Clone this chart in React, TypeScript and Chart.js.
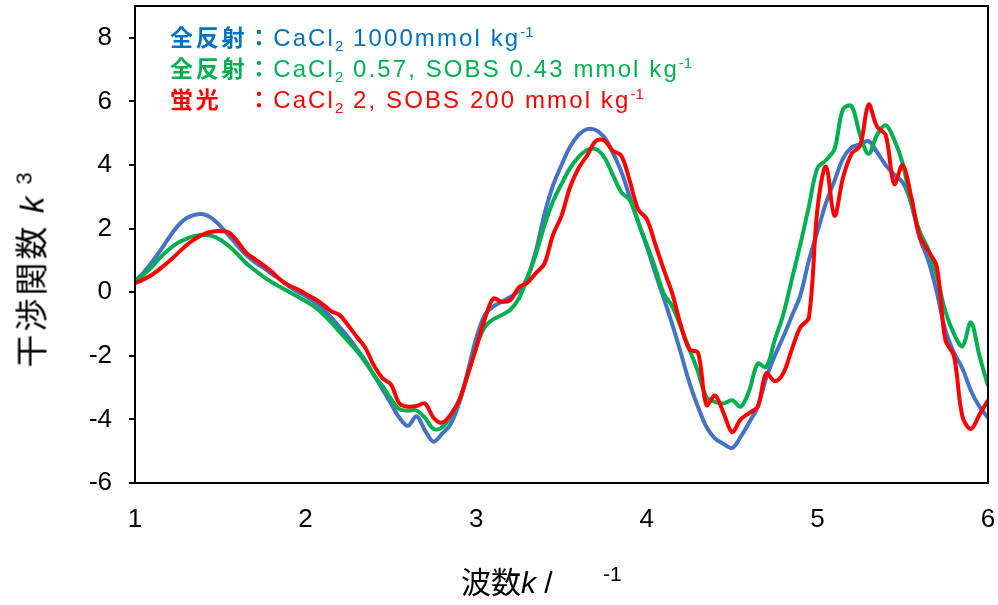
import React, { useEffect, useRef } from "react";
import { Chart, registerables } from "chart.js";
Chart.register(...registerables);

// wave number k (Å^-1)
const kValues = [
  1.0, 1.05, 1.1, 1.15, 1.2, 1.25, 1.3, 1.35, 1.4, 1.45,
  1.5, 1.55, 1.6, 1.65, 1.7, 1.75, 1.8, 1.85, 1.9, 1.95,
  2.0, 2.05, 2.1, 2.15, 2.2, 2.25, 2.3, 2.35, 2.4, 2.45,
  2.5, 2.55, 2.6, 2.65, 2.7, 2.75, 2.8, 2.85, 2.9, 2.95,
  3.0, 3.05, 3.1, 3.15, 3.2, 3.25, 3.3, 3.35, 3.4, 3.45,
  3.5, 3.55, 3.6, 3.65, 3.7, 3.75, 3.8, 3.85, 3.9, 3.95,
  4.0, 4.05, 4.1, 4.15, 4.2, 4.25, 4.3, 4.35, 4.4, 4.45,
  4.5, 4.55, 4.6, 4.65, 4.7, 4.75, 4.8, 4.85, 4.9, 4.95,
  5.0, 5.05, 5.1, 5.15, 5.2, 5.25, 5.3, 5.35, 5.4, 5.45,
  5.5, 5.55, 5.6, 5.65, 5.7, 5.75, 5.8, 5.85, 5.9, 5.95,
  6.0,
];

// 全反射 CaCl2 1000 mmol kg-1 (blue)
const blueSeries = [
  0.35, 0.62, 0.95, 1.32, 1.72, 2.08, 2.32, 2.43, 2.45, 2.33,
  2.08, 1.78, 1.47, 1.18, 0.95, 0.78, 0.58, 0.4, 0.2, 0.02,
  -0.12, -0.3, -0.52, -0.8, -1.1, -1.42, -1.78, -2.15, -2.6, -3.05,
  -3.5, -3.95, -4.2, -3.9, -4.35, -4.7, -4.45, -4.15, -3.5, -2.5,
  -1.45, -0.72, -0.45, -0.3, -0.15, 0.05, 0.45, 1.3, 2.45, 3.35,
  4.0, 4.57, 4.95, 5.13, 5.1, 4.88, 4.4, 3.8, 3.0, 2.2,
  1.43, 0.6, -0.2, -1.03, -1.92, -2.85, -3.6, -4.24, -4.6, -4.77,
  -4.9, -4.55, -4.1, -3.6, -2.7, -2.0, -1.4, -0.75, -0.1, 1.0,
  1.9, 2.8, 3.5, 4.2, 4.55, 4.65, 4.75, 4.4, 4.0, 3.7,
  3.45, 2.8, 1.7, 1.0, 0.0, -1.2, -1.9, -2.4, -3.1, -3.6,
  -3.95,
];

// 全反射 CaCl2 0.57, SOBS 0.43 mmol kg-1 (green)
const greenSeries = [
  0.3, 0.55, 0.8, 1.1, 1.35, 1.55, 1.68, 1.77, 1.8, 1.77,
  1.65, 1.45, 1.2, 0.92, 0.7, 0.5, 0.32, 0.17, 0.02, -0.13,
  -0.28, -0.45, -0.68, -0.95, -1.25, -1.55, -1.85, -2.2, -2.6, -2.95,
  -3.35, -3.68, -3.72, -3.72, -3.95, -4.3, -4.25, -3.9, -3.4, -2.6,
  -1.7, -1.1, -0.85, -0.72, -0.55, -0.2, 0.45, 1.2, 2.1, 2.85,
  3.4, 3.9, 4.25, 4.47, 4.5, 4.25, 3.7, 3.15, 2.9, 2.2,
  1.5, 0.75, -0.05, -0.45, -1.1, -1.8, -2.5, -3.3, -3.45, -3.5,
  -3.4, -3.6, -3.1, -2.25, -2.35, -1.5, -0.7, 0.4, 1.5, 2.7,
  3.9, 4.15, 4.5, 5.75, 5.85, 4.95, 4.35, 4.95, 5.25, 4.8,
  4.05, 2.8, 1.9, 1.35, 0.5, -0.6, -1.3, -1.7, -0.95, -2.0,
  -2.95,
];

// 蛍光 CaCl2 2, SOBS 200 mmol kg-1 (red)
const redSeries = [
  0.28, 0.4, 0.55, 0.75, 0.97, 1.22, 1.47, 1.67, 1.82, 1.9,
  1.92, 1.88, 1.6, 1.25, 1.05, 0.86, 0.65, 0.4, 0.22, 0.1,
  -0.05, -0.2, -0.38, -0.6, -0.72, -1.05, -1.4, -1.75, -2.3, -2.7,
  -2.9, -3.5, -3.6, -3.58, -3.5, -3.95, -4.1, -3.85, -3.4, -2.6,
  -1.75, -0.85, -0.2, -0.3, -0.25, 0.15, 0.3, 0.6, 0.9, 1.8,
  2.4, 3.3, 3.9, 4.3, 4.75, 4.78, 4.45, 4.3, 3.5, 2.6,
  2.3, 1.5, 0.7, -0.05, -1.05, -1.8, -1.9, -3.55, -3.25, -3.8,
  -4.4, -4.0, -3.8, -3.6, -2.55, -2.8, -2.55, -1.8, -1.1, -0.8,
  2.6, 3.95, 2.4, 3.6, 4.35, 4.6, 5.9, 5.2, 4.95, 3.4,
  4.0, 3.0, 1.75, 1.3, 0.8, -1.5, -2.0, -3.9, -4.3, -3.85,
  -3.4,
];

const xTickValues = [1, 2, 3, 4, 5, 6];
const yTickValues = [-6, -4, -2, 0, 2, 4, 6, 8];

const BLUE = "#4472C4";
const GREEN = "#00B050";
const RED = "#FF0000";

const framePlugin = {
  id: "frame",
  afterDatasetsDraw(chart: any) {
    const { ctx, chartArea } = chart;
    ctx.save();
    ctx.strokeStyle = "#000";
    ctx.lineWidth = 2;
    ctx.strokeRect(chartArea.left, chartArea.top, chartArea.right - chartArea.left, chartArea.bottom - chartArea.top);
    ctx.restore();
  },
};

const zeroPad = (s: any) => {
  s.paddingLeft = 0;
  s.paddingRight = 0;
  s.paddingTop = 0;
  s.paddingBottom = 0;
};

const toPoints = (ys: number[]) => kValues.map((x, i) => ({ x, y: ys[i] }));

export default function App() {
  const canvasRef = useRef<HTMLCanvasElement | null>(null);

  useEffect(() => {
    if (!canvasRef.current) return;
    const mk = (label: string, ys: number[], color: string, order: number) => ({
      label,
      data: toPoints(ys),
      borderColor: color,
      backgroundColor: color,
      borderWidth: 4,
      pointRadius: 0,
      tension: 0.35,
      fill: false,
      order,
    });
    const chart = new Chart(canvasRef.current, {
      type: "line",
      data: {
        datasets: [
          mk("全反射：CaCl2 1000mmol kg-1", blueSeries, BLUE, 2),
          mk("全反射：CaCl2 0.57, SOBS 0.43 mmol kg-1", greenSeries, GREEN, 1),
          mk("蛍光：CaCl2 2, SOBS 200 mmol kg-1", redSeries, RED, 0),
        ],
      },
      options: {
        animation: false,
        responsive: false,
        maintainAspectRatio: false,
        layout: { padding: { top: 6, right: 10, left: 0, bottom: 0 } },
        plugins: { legend: { display: false }, tooltip: { enabled: false } },
        scales: {
          x: {
            type: "linear",
            min: 1,
            max: 6,
            afterBuildTicks: (axis: any) => {
              axis.ticks = xTickValues.map((v) => ({ value: v }));
            },
            afterFit: (s: any) => {
              s.height = 122;
              zeroPad(s);
            },
            ticks: {
              color: "#000",
              font: { family: "'Liberation Sans', Arial, sans-serif", size: 26 },
              padding: 13,
              maxRotation: 0,
            },
            grid: { display: false },
            border: { display: false },
          },
          y: {
            type: "linear",
            min: -6,
            max: 9,
            afterBuildTicks: (axis: any) => {
              axis.ticks = yTickValues.map((v) => ({ value: v }));
            },
            afterFit: (s: any) => {
              s.width = 135;
              zeroPad(s);
            },
            ticks: {
              color: "#000",
              font: { family: "'Liberation Sans', Arial, sans-serif", size: 26 },
              padding: 17,
            },
            grid: {
              display: true,
              drawOnChartArea: false,
              drawTicks: true,
              tickLength: 6,
              color: "#000",
              lineWidth: 2,
            },
            border: { display: false },
          },
        },
      },
      plugins: [framePlugin],
    } as any);
    return () => chart.destroy();
  }, []);

  const latin = "'Liberation Sans', Arial, sans-serif";
  const cjk = "'Noto Sans CJK JP', sans-serif";

  const legendLine = (top: number, color: string, head: string, parts: React.ReactNode) => (
    <div
      style={{
        position: "absolute",
        left: 170,
        top,
        color,
        whiteSpace: "pre",
        lineHeight: "30px",
        height: 30,
      }}
    >
      <span style={{ fontFamily: cjk, fontWeight: 700, fontSize: 23, letterSpacing: "2.8px" }}>{head}</span>
      <span style={{ fontFamily: latin, fontSize: 24, letterSpacing: "2.1px" }}>{parts}</span>
    </div>
  );

  const sub = (t: string) => (
    <span style={{ fontSize: 15, position: "relative", top: 5, letterSpacing: "1px" }}>{t}</span>
  );
  const sup = (t: string) => (
    <span style={{ fontSize: 15, position: "relative", top: -9, letterSpacing: "0px" }}>{t}</span>
  );

  return (
    <div style={{ position: "fixed", left: 0, top: 0, width: 998, height: 605, background: "#fff", overflow: "hidden" }}>
      <canvas ref={canvasRef} width={998} height={605} style={{ position: "absolute", left: 0, top: 0, width: 998, height: 605 }} />
      {legendLine(21, "#0070C0", "全反射：", <>CaCl{sub("2")} 1000mmol kg{sup("-1")}</>)}
      {legendLine(52, GREEN, "全反射：", <>CaCl{sub("2")} 0.57, SOBS 0.43 mmol kg{sup("-1")}</>)}
      {legendLine(83, RED, "蛍光\u3000：", <>CaCl{sub("2")} 2, SOBS 200 mmol kg{sup("-1")}</>)}
      <div
        style={{
          position: "absolute",
          left: 33,
          top: 270,
          transform: "translate(-50%, -50%) rotate(-90deg)",
          whiteSpace: "pre",
          fontSize: 33,
          lineHeight: "36px",
          color: "#000",
        }}
      >
        <span style={{ fontFamily: cjk, letterSpacing: "3px" }}>干渉関数 </span>
        <span style={{ fontFamily: latin, fontStyle: "italic" }}>k</span>
        <span style={{ fontFamily: latin, fontSize: 22, position: "relative", top: -12, marginLeft: 12 }}>3</span>
      </div>
      <div
        style={{
          position: "absolute",
          left: 461,
          top: 562,
          whiteSpace: "pre",
          fontSize: 30,
          lineHeight: "36px",
          color: "#000",
        }}
      >
        <span style={{ fontFamily: cjk }}>波数</span>
        <span style={{ fontFamily: latin, fontStyle: "italic" }}>k</span>
        <span style={{ fontFamily: latin }}> / </span>
        <span style={{ fontFamily: latin, fontSize: 21, position: "relative", top: -12, marginLeft: 42 }}>-1</span>
      </div>
    </div>
  );
}
